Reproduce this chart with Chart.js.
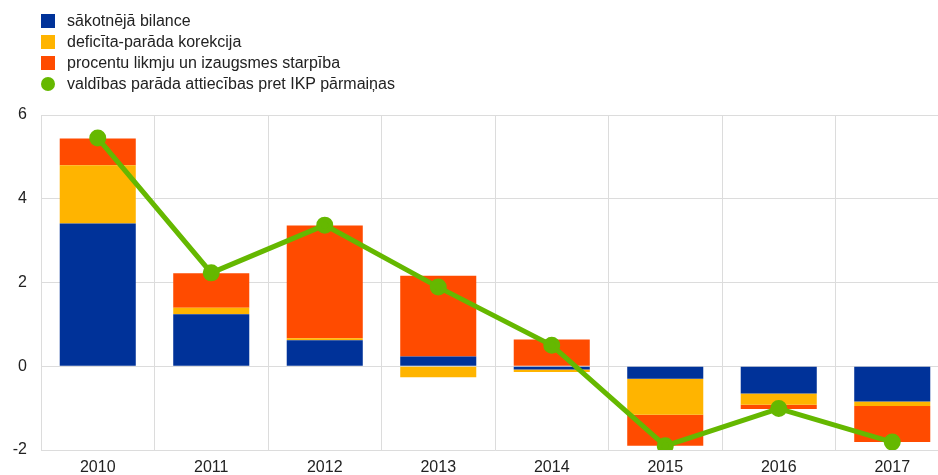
<!DOCTYPE html>
<html>
<head>
<meta charset="utf-8">
<script src="https://cdn.jsdelivr.net/npm/chart.js@4/dist/chart.umd.min.js"></script>
<style>
  body { margin: 0; overflow: hidden; background: #fff; font-family: "Liberation Sans", Arial, sans-serif; }
  #wrap { position: relative; width: 938px; height: 475px; overflow: hidden; }
  #legend { position: absolute; left: 41px; top: 10px; font-size: 16px; color: #222; }
  .row { height: 21px; display: flex; align-items: center; }
  .sw { width: 14px; height: 14px; margin-right: 12px; }
  .dot { border-radius: 50%; width: 14px; height: 14px; }
  canvas { position: absolute; left: 0; top: 0; }
</style>
</head>
<body>
<div id="wrap">
  <canvas id="chart" width="960" height="475"></canvas>
  <div id="legend"></div>
</div>
<script>
// data
const years = ['2010','2011','2012','2013','2014','2015','2016','2017'];
const primaryBalance = [3.41, 1.24, 0.62, 0.23, -0.08, -0.30, -0.65, -0.84];
const deficitDebt = [1.39, 0.16, 0.05, -0.26, -0.06, -0.86, -0.27, -0.11];
const rateGrowth = [0.64, 0.82, 2.69, 1.93, 0.64, -0.74, -0.10, -0.86];
const debtChange = [5.45, 2.23, 3.37, 1.89, 0.50, -1.90, -1.01, -1.81];

const labels = [
    'sākotnējā bilance',
    'deficīta-parāda korekcija',
    'procentu likmju un izaugsmes starpība',
    'valdības parāda attiecības pret IKP pārmaiņas'
];
const colors = ['#003299', '#ffb400', '#ff4b00', '#65b800'];

//legend as html, stacked vertically
const leg = document.getElementById('legend');
labels.forEach((t, i) => {
    const row = document.createElement('div');
    row.className = 'row';
    const sw = document.createElement('span');
    sw.className = i === 3 ? 'sw dot' : 'sw';
    sw.style.background = colors[i];
    row.appendChild(sw);
    row.appendChild(document.createTextNode(t));
    leg.appendChild(row);
});

const gridColor = '#dcdcdc';
const tickFont = { family: '"Liberation Sans", Arial, sans-serif', size: 16 };

new Chart(document.getElementById('chart').getContext('2d'), {
    data: {
        labels: years,
        datasets: [
            { type: 'bar', label: labels[0], data: primaryBalance, backgroundColor: colors[0], order: 1 },
            { type: 'bar', label: labels[1], data: deficitDebt, backgroundColor: colors[1], order: 1 },
            { type: 'bar', label: labels[2], data: rateGrowth, backgroundColor: colors[2], order: 1 },
            {
                type: 'line', label: labels[3], data: debtChange,
                borderColor: colors[3], backgroundColor: colors[3],
                borderWidth: 5, pointRadius: 6, pointHoverRadius: 6,
                tension: 0, order: 0
            }
        ]
    },
    options: {
        responsive: false,
        animation: false,
        layout: { padding: { top: 115, right: 0, bottom: 0, left: 0 } },
        datasets: { bar: { barPercentage: 0.67, categoryPercentage: 1 } },
        plugins: { legend: { display: false }, tooltip: { enabled: false } },
        scales: {
            x: {
                stacked: true,
                grid: { color: gridColor, drawTicks: false, offset: true },
                border: { color: gridColor },
                ticks: { color: '#222', font: tickFont, padding: 8 },
                afterFit: (s) => { s.height = 25; }
            },
            y: {
                stacked: true,
                min: -2, max: 6,
                grid: { color: gridColor, drawTicks: false },
                border: { color: gridColor },
                ticks: { stepSize: 2, color: '#222', font: tickFont, padding: 14 },
                afterFit: (s) => { s.width = 41; }
            }
        }
    }
});
</script>
</body>
</html>
